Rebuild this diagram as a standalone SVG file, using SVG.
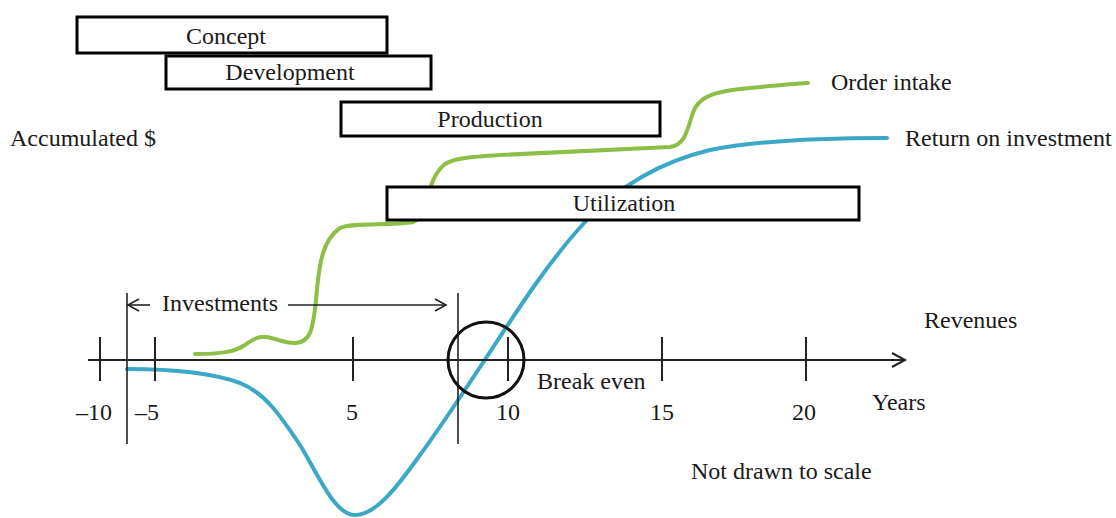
<svg xmlns="http://www.w3.org/2000/svg" width="1116" height="518" viewBox="0 0 1116 518">
<style>
text{font-family:"Liberation Serif","Times New Roman",serif;font-size:24px;fill:#1a1a1a}
.box rect{fill:#fff;stroke:#000;stroke-width:3}
.ax{stroke:#222;stroke-width:2;fill:none}
.thin{stroke:#222;stroke-width:1.6;fill:none}
.green{stroke:#8dbf47;stroke-width:4;fill:none;stroke-linecap:round}
.blue{stroke:#3aa8c6;stroke-width:4;fill:none;stroke-linecap:round}
</style>
<rect width="1116" height="518" fill="#fff"/>
<g id="connectors">
<g id="order-intake-curve"><path class="green" d="M195,354 C220,354 235,352 245,345 C252,340 258,336 266,337 C276,338 285,344 296,343 C310,342 313,330 316,300 C319,265 322,240 340,228 C352,222 390,226 413,222 C428,218 425,180 445,164 C455,158 470,157 500,155 L670,147 C688,145 688,122 695,108 C702,96 715,92 740,89 C770,86 790,84 808,83"/></g>
<g id="roi-curve"><path class="blue" d="M127,369 C170,369 210,372 240,383 C265,393 280,415 300,445 C320,478 335,515 355,515 C375,515 395,490 420,455 C440,428 465,390 490,352 C520,306 550,260 585,222 C620,185 660,162 710,150 C760,140 830,138 887,138"/></g>
<g id="axis">
<line class="ax" x1="88" y1="360" x2="905" y2="360"/>
<polyline class="ax" points="892,353 905,360 892,367"/>
<line class="ax" x1="100" y1="337" x2="100" y2="381"/>
<line class="ax" x1="155" y1="337" x2="155" y2="381"/>
<line class="ax" x1="353" y1="337" x2="353" y2="381"/>
<line class="ax" x1="508" y1="337" x2="508" y2="381"/>
<line class="ax" x1="662" y1="337" x2="662" y2="381"/>
<line class="ax" x1="806" y1="337" x2="806" y2="381"/>
</g>
<g id="investments-arrow">
<line class="thin" x1="127" y1="293" x2="127" y2="444"/>
<line class="thin" x1="458" y1="293" x2="458" y2="444"/>
<line class="thin" x1="127" y1="305" x2="150" y2="305"/>
<polyline class="thin" points="139,299 128,305 139,311"/>
<line class="thin" x1="288" y1="305" x2="446" y2="305"/>
<polyline class="thin" points="435,299 446,305 435,311"/>
</g>
<circle id="break-even-circle" cx="486" cy="360" r="38" fill="none" stroke="#111" stroke-width="3"/>
</g>
<g id="concept" class="box"><rect x="77" y="17" width="310" height="36"/><text x="226" y="44" text-anchor="middle">Concept</text></g>
<g id="development" class="box"><rect x="166" y="56" width="265" height="33"/><text x="290" y="80" text-anchor="middle">Development</text></g>
<g id="production" class="box"><rect x="341" y="102" width="319" height="34"/><text x="490" y="127" text-anchor="middle">Production</text></g>
<g id="utilization" class="box"><rect x="387" y="187" width="472" height="33"/><text x="624" y="211" text-anchor="middle">Utilization</text></g>
<g id="labels">
<text x="162" y="311">Investments</text>
<text x="10" y="146">Accumulated $</text>
<text x="831" y="90">Order intake</text>
<text x="905" y="146">Return on investment</text>
<text x="924" y="328">Revenues</text>
<text x="537" y="389">Break even</text>
<text x="872" y="410">Years</text>
<text x="691" y="479">Not drawn to scale</text>
<text x="94" y="420" text-anchor="middle">–10</text>
<text x="147" y="420" text-anchor="middle">–5</text>
<text x="352" y="420" text-anchor="middle">5</text>
<text x="508" y="420" text-anchor="middle">10</text>
<text x="662" y="420" text-anchor="middle">15</text>
<text x="804" y="420" text-anchor="middle">20</text>
</g>
</svg>
